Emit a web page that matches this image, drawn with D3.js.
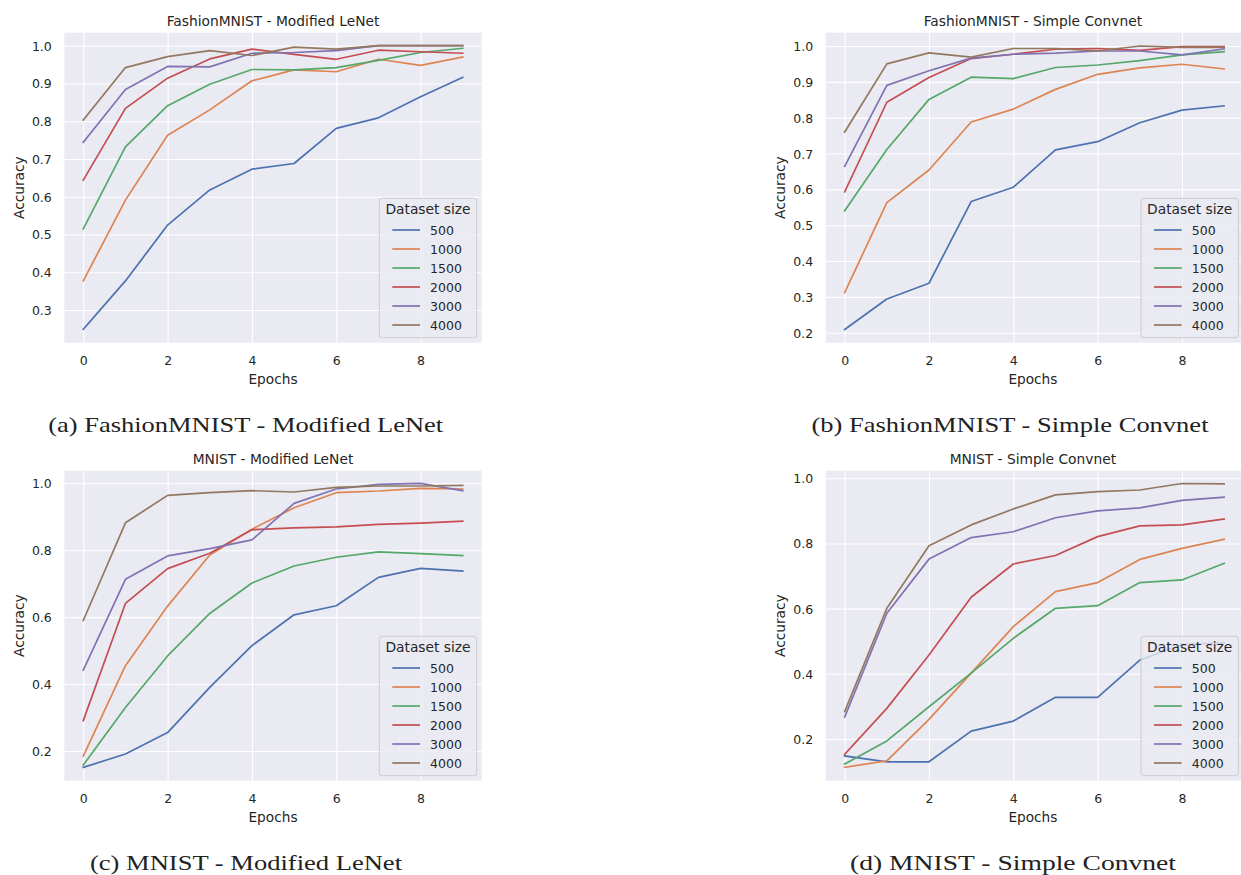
<!DOCTYPE html>
<html>
<head>
<meta charset="utf-8">
<script src="https://cdn.jsdelivr.net/npm/d3@7"></script>
<style>
  html, body { margin: 0; padding: 0; background: #ffffff; }
  svg { display: block; }
</style>
</head>
<body>
<svg id="chart" width="1241" height="875"></svg>
<script>
// ---------------- DATA ----------------
const epochs = [0, 1, 2, 3, 4, 5, 6, 7, 8, 9];
const datasetSizes = ["500", "1000", "1500", "2000", "3000", "4000"];
const xTicks = [0, 2, 4, 6, 8];

// (a) FashionMNIST - Modified LeNet
const fashionLeNet500  = [0.249, 0.377, 0.525, 0.618, 0.673, 0.688, 0.781, 0.809, 0.865, 0.916];
const fashionLeNet1000 = [0.377, 0.591, 0.763, 0.830, 0.907, 0.936, 0.931, 0.964, 0.948, 0.970];
const fashionLeNet1500 = [0.515, 0.732, 0.841, 0.898, 0.937, 0.936, 0.942, 0.961, 0.982, 0.993];
const fashionLeNet2000 = [0.644, 0.834, 0.914, 0.965, 0.991, 0.977, 0.964, 0.988, 0.984, 0.980];
const fashionLeNet3000 = [0.744, 0.884, 0.945, 0.944, 0.980, 0.982, 0.987, 1.000, 1.000, 1.000];
const fashionLeNet4000 = [0.803, 0.942, 0.971, 0.987, 0.974, 0.996, 0.991, 1.000, 1.000, 1.000];

// (b) FashionMNIST - Simple Convnet
const fashionConv500  = [0.209, 0.294, 0.338, 0.566, 0.606, 0.710, 0.733, 0.786, 0.821, 0.833];
const fashionConv1000 = [0.312, 0.563, 0.654, 0.788, 0.824, 0.879, 0.921, 0.939, 0.949, 0.936];
const fashionConv1500 = [0.540, 0.711, 0.851, 0.913, 0.909, 0.940, 0.947, 0.959, 0.975, 0.984];
const fashionConv2000 = [0.593, 0.843, 0.912, 0.965, 0.977, 0.991, 0.993, 0.988, 0.998, 0.998];
const fashionConv3000 = [0.664, 0.890, 0.931, 0.966, 0.977, 0.980, 0.986, 0.986, 0.975, 0.992];
const fashionConv4000 = [0.760, 0.950, 0.981, 0.969, 0.993, 0.993, 0.986, 1.000, 0.996, 0.996];

// (c) MNIST - Modified LeNet
const mnistLeNet500  = [0.151, 0.191, 0.255, 0.390, 0.515, 0.607, 0.634, 0.719, 0.746, 0.738];
const mnistLeNet1000 = [0.185, 0.455, 0.633, 0.786, 0.863, 0.927, 0.972, 0.977, 0.985, 0.983];
const mnistLeNet1500 = [0.158, 0.330, 0.484, 0.611, 0.702, 0.753, 0.779, 0.795, 0.790, 0.784];
const mnistLeNet2000 = [0.291, 0.641, 0.745, 0.791, 0.861, 0.867, 0.870, 0.877, 0.881, 0.887];
const mnistLeNet3000 = [0.442, 0.713, 0.783, 0.805, 0.831, 0.940, 0.983, 0.997, 1.000, 0.978];
const mnistLeNet4000 = [0.590, 0.882, 0.964, 0.972, 0.978, 0.974, 0.988, 0.992, 0.992, 0.994];

// (d) MNIST - Simple Convnet
const mnistConv500  = [0.148, 0.130, 0.130, 0.224, 0.255, 0.328, 0.328, 0.442, 0.490, 0.495];
const mnistConv1000 = [0.113, 0.133, 0.260, 0.402, 0.545, 0.652, 0.680, 0.751, 0.785, 0.813];
const mnistConv1500 = [0.123, 0.194, 0.299, 0.402, 0.509, 0.601, 0.609, 0.680, 0.688, 0.739];
const mnistConv2000 = [0.153, 0.294, 0.458, 0.635, 0.737, 0.763, 0.821, 0.854, 0.857, 0.875];
const mnistConv3000 = [0.267, 0.586, 0.752, 0.818, 0.836, 0.879, 0.900, 0.909, 0.932, 0.942];
const mnistConv4000 = [0.284, 0.601, 0.793, 0.857, 0.906, 0.949, 0.959, 0.964, 0.984, 0.983];

const panelTitles = [
  "FashionMNIST - Modified LeNet",
  "FashionMNIST - Simple Convnet",
  "MNIST - Modified LeNet",
  "MNIST - Simple Convnet"
];
const captions = [
  "(a) FashionMNIST - Modified LeNet",
  "(b) FashionMNIST - Simple Convnet",
  "(c) MNIST - Modified LeNet",
  "(d) MNIST - Simple Convnet"
];
const yTicksA = [0.3, 0.4, 0.5, 0.6, 0.7, 0.8, 0.9, 1.0];
const yTicksB = [0.2, 0.3, 0.4, 0.5, 0.6, 0.7, 0.8, 0.9, 1.0];
const yTicksC = [0.2, 0.4, 0.6, 0.8, 1.0];
const yTicksD = [0.2, 0.4, 0.6, 0.8, 1.0];

const panelSeries = [
  [fashionLeNet500, fashionLeNet1000, fashionLeNet1500, fashionLeNet2000, fashionLeNet3000, fashionLeNet4000],
  [fashionConv500, fashionConv1000, fashionConv1500, fashionConv2000, fashionConv3000, fashionConv4000],
  [mnistLeNet500, mnistLeNet1000, mnistLeNet1500, mnistLeNet2000, mnistLeNet3000, mnistLeNet4000],
  [mnistConv500, mnistConv1000, mnistConv1500, mnistConv2000, mnistConv3000, mnistConv4000]
];
const panelYTicks = [yTicksA, yTicksB, yTicksC, yTicksD];

// ---------------- STYLE / LAYOUT ----------------
const palette = ["#4c72b0", "#dd8452", "#55a868", "#c44e52", "#8172b3", "#937860"];
const textColor = "#262626";
const bgColor = "#eaeaf2";
const sansFont = "'DejaVu Sans', sans-serif";
const serifFont = "'Liberation Serif', 'DejaVu Serif', serif";

const layouts = [
  { left: 64.3,  right: 481.7,  top: 32.7,  bottom: 342.7, yDomain: [0.2134, 1.0344] },
  { left: 825.7, right: 1243.1, top: 32.7,  bottom: 342.7, yDomain: [0.1721, 1.0371] },
  { left: 64.3,  right: 481.7,  top: 470.7, bottom: 780.7, yDomain: [0.1112, 1.0377] },
  { left: 825.7, right: 1243.1, top: 470.7, bottom: 780.7, yDomain: [0.0720, 1.0233] }
];
const captionPos = [
  { x: 245.7, y: 432.3, len: 395 },
  { x: 1010,  y: 432.3, len: 397 },
  { x: 246,   y: 870,   len: 312 },
  { x: 1013,  y: 870,   len: 326 }
];

const svg = d3.select("#chart");

layouts.forEach((L, p) => {
  const g = svg.append("g");
  const x = d3.scaleLinear().domain([-0.45, 9.45]).range([L.left, L.right]);
  const y = d3.scaleLinear().domain(L.yDomain).range([L.bottom, L.top]);
  const yTicks = panelYTicks[p];

  g.append("rect")
    .attr("x", L.left).attr("y", L.top)
    .attr("width", L.right - L.left).attr("height", L.bottom - L.top)
    .attr("fill", bgColor);

  const xGrid = d3.axisBottom(x).tickValues(xTicks).tickSize(-(L.bottom - L.top)).tickFormat("");
  g.append("g").attr("transform", `translate(0,${L.bottom})`).call(xGrid)
    .call(s => s.select(".domain").remove())
    .call(s => s.selectAll("line").attr("stroke", "#ffffff").attr("stroke-width", 1.1));
  const yGrid = d3.axisLeft(y).tickValues(yTicks).tickSize(-(L.right - L.left)).tickFormat("");
  g.append("g").attr("transform", `translate(${L.left},0)`).call(yGrid)
    .call(s => s.select(".domain").remove())
    .call(s => s.selectAll("line").attr("stroke", "#ffffff").attr("stroke-width", 1.1));

  const xAxis = d3.axisBottom(x).tickValues(xTicks).tickSize(0).tickPadding(0).tickFormat(d3.format("d"));
  g.append("g").attr("transform", `translate(0,${L.bottom})`).call(xAxis)
    .call(s => s.select(".domain").remove())
    .call(s => s.selectAll("text")
      .attr("y", 17.5).attr("dy", null)
      .attr("dominant-baseline", "central")
      .attr("font-family", sansFont).attr("font-size", 12.5).attr("fill", textColor));
  const yAxis = d3.axisLeft(y).tickValues(yTicks).tickSize(0).tickPadding(0).tickFormat(d3.format(".1f"));
  g.append("g").attr("transform", `translate(${L.left},0)`).call(yAxis)
    .call(s => s.select(".domain").remove())
    .call(s => s.selectAll("text")
      .attr("x", -12.5).attr("dy", null)
      .attr("dominant-baseline", "central")
      .attr("font-family", sansFont).attr("font-size", 12.5).attr("fill", textColor));

  const line = d3.line().x((d, i) => x(epochs[i])).y(d => y(d));
  const clipId = "clip" + p;
  g.append("clipPath").attr("id", clipId).append("rect")
    .attr("x", L.left).attr("y", L.top)
    .attr("width", L.right - L.left).attr("height", L.bottom - L.top);
  g.append("g").attr("clip-path", `url(#${clipId})`)
    .selectAll("path").data(panelSeries[p]).join("path")
    .attr("d", d => line(d))
    .attr("fill", "none")
    .attr("stroke", (d, i) => palette[i])
    .attr("stroke-width", 1.7)
    .attr("stroke-linejoin", "round")
    .attr("stroke-linecap", "square");

  g.append("text")
    .attr("x", (L.left + L.right) / 2 - (p % 2 === 1 ? 1.5 : 0)).attr("y", L.top - 7)
    .attr("text-anchor", "middle")
    .attr("font-family", sansFont).attr("font-size", 13.8).attr("fill", textColor)
    .text(panelTitles[p]);

  g.append("text")
    .attr("x", (L.left + L.right) / 2 - (p % 2 === 1 ? 1.5 : 0)).attr("y", L.bottom + 41.3)
    .attr("text-anchor", "middle")
    .attr("font-family", sansFont).attr("font-size", 13.7).attr("fill", textColor)
    .text("Epochs");
  g.append("text")
    .attr("transform", `translate(${L.left - 40.3},${(L.top + L.bottom) / 2}) rotate(-90)`)
    .attr("text-anchor", "middle")
    .attr("font-family", sansFont).attr("font-size", 13.7).attr("fill", textColor)
    .text("Accuracy");

  const legRight = (p % 2 === 1) ? 1238.4 : L.right - 5;
  const legW = 97.4, legH = 139.4;
  const lx = legRight - legW, ly = L.bottom - 5 - legH;
  const leg = g.append("g");
  leg.append("rect")
    .attr("x", lx).attr("y", ly).attr("width", legW).attr("height", legH)
    .attr("rx", 3).attr("ry", 3)
    .attr("fill", bgColor).attr("fill-opacity", 0.8)
    .attr("stroke", "#cccccc").attr("stroke-width", 1);
  leg.append("text")
    .attr("x", lx + legW / 2).attr("y", ly + 15.8)
    .attr("text-anchor", "middle")
    .attr("font-family", sansFont).attr("font-size", 13.8).attr("fill", textColor)
    .text("Dataset size");
  const items = leg.selectAll("g.item").data(datasetSizes).join("g").attr("class", "item");
  items.append("line")
    .attr("x1", lx + 13).attr("x2", lx + 40.7)
    .attr("y1", (d, i) => ly + 31.7 + i * 19.0)
    .attr("y2", (d, i) => ly + 31.7 + i * 19.0)
    .attr("stroke", (d, i) => palette[i]).attr("stroke-width", 1.7);
  items.append("text")
    .attr("x", lx + 50.8)
    .attr("y", (d, i) => ly + 31.7 + i * 19.0)
    .attr("dominant-baseline", "central")
    .attr("font-family", sansFont).attr("font-size", 12.5).attr("fill", textColor)
    .text(d => d);

  const C = captionPos[p];
  svg.append("text")
    .attr("x", C.x).attr("y", C.y)
    .attr("text-anchor", "middle")
    .attr("font-family", serifFont).attr("font-size", 22).attr("fill", "#222222")
    .attr("textLength", C.len).attr("lengthAdjust", "spacingAndGlyphs")
    .text(captions[p]);
});
</script>
</body>
</html>
